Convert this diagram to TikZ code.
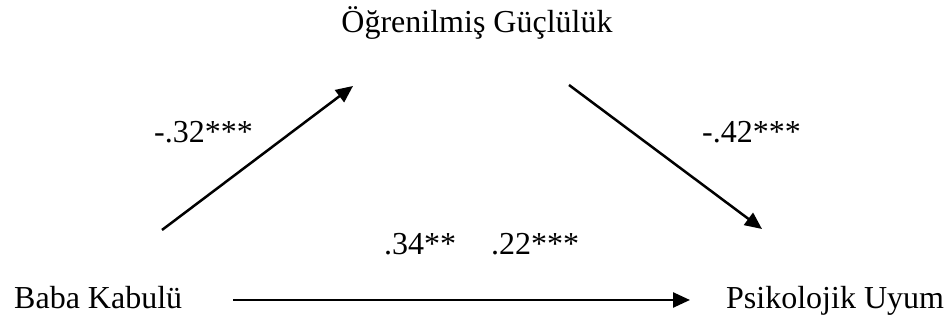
\documentclass[tikz,border=0pt]{standalone}
\usepackage{fontspec}
\setmainfont{Liberation Serif}
\usetikzlibrary{arrows.meta}
\begin{document}
\begin{tikzpicture}[x=1pt,y=1pt,
  lbl/.style={inner sep=0pt,font=\fontsize{32}{38}\selectfont},
  conn/.style={line width=2.5pt,-{Triangle[length=17pt,width=15pt]}}]
\useasboundingbox (0,0) rectangle (951,320);
\node[lbl,anchor=base] (og) at (477,287) {Öğrenilmiş Güçlülük};
\node[lbl,anchor=base west] (bk) at (14,11) {Baba Kabulü};
\node[lbl,anchor=base west] (pu) at (726,11) {Psikolojik Uyum};
\node[lbl,anchor=base west] (l1) at (154,177) {-.32***};
\node[lbl,anchor=base west] (l2) at (702,177) {-.42***};
\node[lbl,anchor=base west] (l3) at (384,65) {.34**};
\node[lbl,anchor=base west] (l4) at (491,65) {.22***};
\coordinate (a1s) at (162,90);
\coordinate (a1e) at (353,234);
\coordinate (a2s) at (569,235);
\coordinate (a2e) at (762,91);
\coordinate (a3s) at (233,20);
\coordinate (a3e) at (690,20);
\draw[conn] (a1s) -- (a1e);
\draw[conn] (a2s) -- (a2e);
\draw[conn] (a3s) -- (a3e);
\end{tikzpicture}
\end{document}
